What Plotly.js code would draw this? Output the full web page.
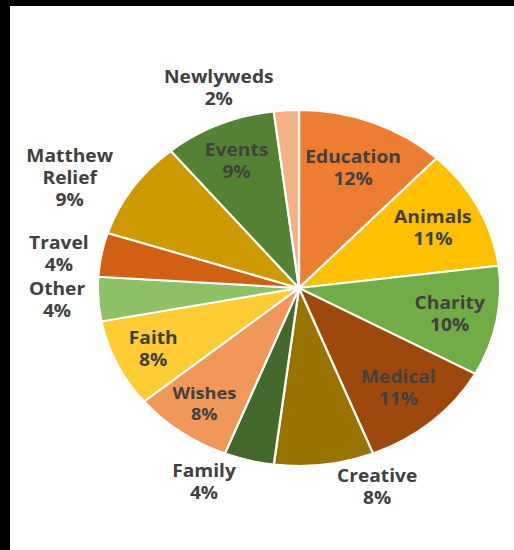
<!DOCTYPE html>
<html>
<head>
<meta charset="utf-8">
<script src="https://cdn.plot.ly/plotly-3.0.1.min.js"></script>
<style>
html,body{margin:0;padding:0;background:#fff;overflow:hidden;}
#wrap{width:504px;height:544px;border-top:6px solid #000;border-left:10px solid #000;overflow:hidden;}
#chart{width:446px;height:544px;transform:scaleX(1.13);transform-origin:0 0;}
</style>
</head>
<body>
<div id="wrap"><div id="chart"></div></div>
<script>
var categories = ["Education","Animals","Charity","Medical","Creative","Family","Wishes","Faith","Other","Travel","Matthew Relief","Events","Newlyweds"];
var displayNames = ["Education","Animals","Charity","Medical","Creative","Family","Wishes","Faith","Other","Travel","Matthew<br>Relief","Events","Newlyweds"];
var shares = [12,11,10,11,8,4,8,8,4,4,9,9,2];
var sliceColors = ["#ED7D31","#FFC000","#70AD47","#9E480E","#997300","#43682B","#F1975A","#FFCD33","#8CC168","#D26012","#CC9A00","#548235","#F4B183"];
var labelPositions = ["inside","inside","inside","inside","outside","outside","inside","inside","outside","outside","outside","inside","outside"];

var trace = {
  type: "pie",
  labels: categories,
  values: shares,
  customdata: displayNames,
  texttemplate: "%{customdata}<br>%{value}%",
  textposition: labelPositions,
  insidetextorientation: "horizontal",
  sort: false,
  direction: "clockwise",
  rotation: 0,
  marker: {colors: sliceColors, line: {color: "#ffffff", width: 2}},
  textfont: {family: "Open Sans, sans-serif", size: 17, color: "#404040", weight: "bold"},
  insidetextfont: {family: "Open Sans, sans-serif", size: 17, color: "#404040", weight: "bold"},
  outsidetextfont: {family: "Open Sans, sans-serif", size: 17, color: "#404040", weight: "bold"},
  hoverinfo: "label+percent",
  domain: {x: [0.1743, 0.9725], y: [0.1544, 0.8088]},
  automargin: false,
  showlegend: false
};

var layout = {
  width: 446, height: 544,
  margin: {l: 0, r: 0, t: 0, b: 0},
  paper_bgcolor: "#ffffff",
  showlegend: false
};

Plotly.newPlot("chart", [trace], layout, {displayModeBar: false, staticPlot: true});
</script>
</body>
</html>
